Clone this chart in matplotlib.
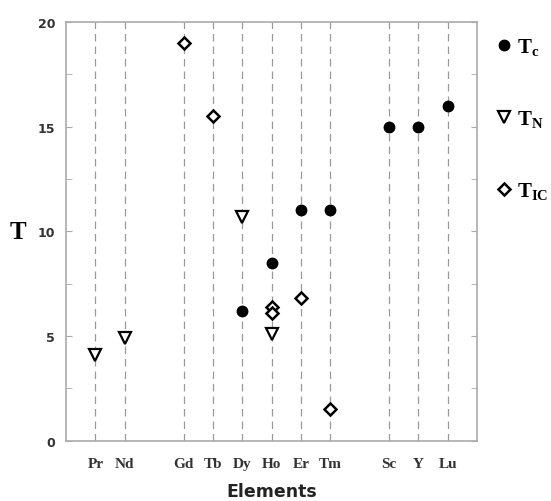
import matplotlib.pyplot as plt

plt.rcParams['mathtext.fontset'] = 'custom'
plt.rcParams['mathtext.rm'] = 'Liberation Serif'
plt.rcParams['mathtext.bf'] = 'Liberation Serif:bold'

# element names and their slot on the x axis (gaps left between groups)
elements = ["Pr", "Nd", "Gd", "Tb", "Dy", "Ho", "Er", "Tm", "Sc", "Y", "Lu"]
positions = [1, 2, 4, 5, 6, 7, 8, 9, 11, 12, 13]
pos = dict(zip(elements, positions))

tc_elem = ["Dy", "Ho", "Er", "Tm", "Sc", "Y", "Lu"]
tc_vals = [6.2, 8.5, 11.0, 11.0, 15.0, 15.0, 16.0]

tn_elem = ["Pr", "Nd", "Dy", "Ho"]
tn_vals = [4.1, 4.9, 10.7, 5.1]

tic_elem = ["Gd", "Tb", "Ho", "Ho", "Er", "Tm"]
tic_vals = [19.0, 15.5, 6.4, 6.1, 6.8, 1.5]

fig = plt.figure(figsize=(5.51, 5.02), dpi=100)
ax = fig.add_axes([0.12, 0.12, 0.746, 0.834])

for p in positions:
    ax.axvline(p, color="#9a9a9a", ls=(0, (6, 4)), lw=0.9, zorder=0)

ax.plot([pos[e] for e in tc_elem], tc_vals, "o", color="black", ms=7.5,
        ls="none", label=r"$\mathbf{T}_{\mathbf{c}}$")
ax.plot([pos[e] for e in tn_elem], tn_vals, "v", mfc="white", mec="black",
        mew=1.6, ms=8, ls="none", label=r"$\mathbf{T}_{\mathbf{N}}$")
ax.plot([pos[e] for e in tic_elem], tic_vals, "D", mfc="white", mec="black",
        mew=1.8, ms=6.5, ls="none", label=r"$\mathbf{T}_{\mathbf{IC}}$")

ax.set_xlim(0, 14)
ax.set_ylim(0, 20)
ax.set_xticks(positions)
ax.set_xticklabels(elements, fontfamily="Liberation Serif", fontweight="bold",
                   fontsize=11, color="#333333")
ax.set_yticks([0, 5, 10, 15, 20])
ax.set_yticks([2.5, 7.5, 12.5, 17.5], minor=True)
ax.tick_params(axis="y", which="both", direction="in", right=True, length=4,
               color="#aaaaaa", labelsize=9, labelcolor="#333333", pad=8)
ax.tick_params(axis="x", length=0, pad=12)
for lab in ax.get_yticklabels():
    lab.set_fontweight("bold")

for s in ax.spines.values():
    s.set_color("#aaaaaa")
    s.set_linewidth(1.2)

ax.set_ylabel("T", fontfamily="Liberation Serif", fontweight="bold",
              fontsize=18, rotation=0, labelpad=14, va="center")
ax.set_xlabel("Elements", fontsize=12.5, fontweight="bold", color="#222222",
              labelpad=8)

ax.legend(loc="upper left", bbox_to_anchor=(1.02, 0.985), frameon=False,
          fontsize=15, labelspacing=2.4, handletextpad=0.1, handlelength=1.0,
          borderaxespad=0)

fig.savefig("out.png", dpi=100)
